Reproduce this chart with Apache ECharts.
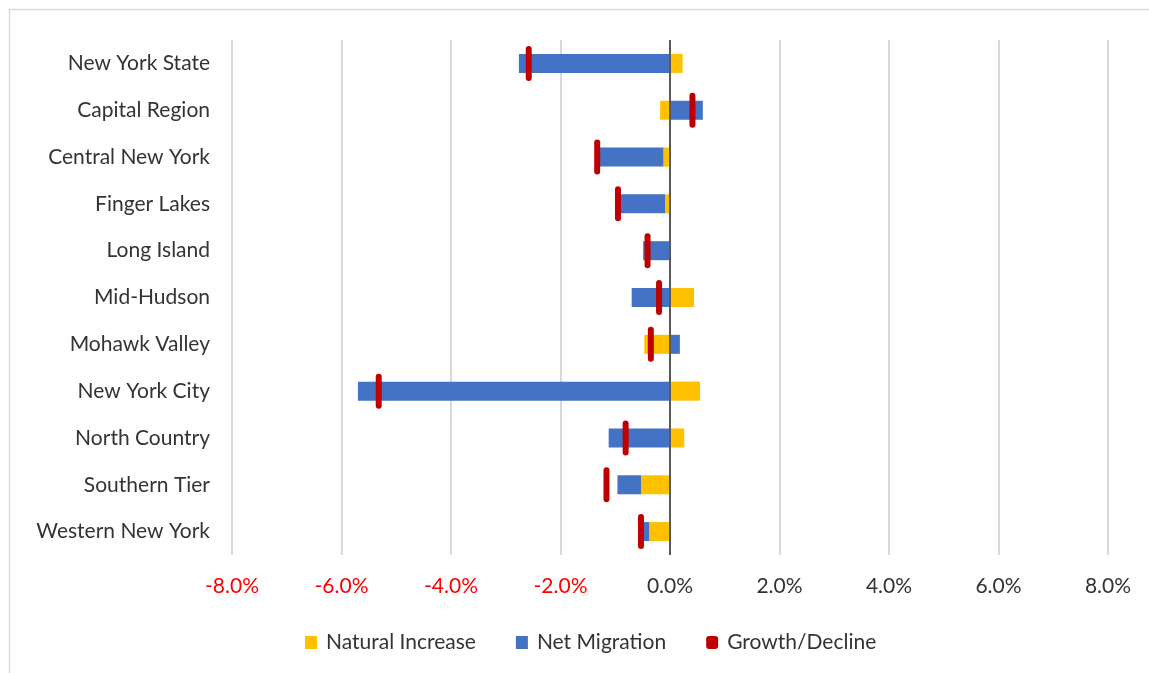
<!DOCTYPE html>
<html>
<head>
<meta charset="utf-8">
<title>Components of Population Change by Region</title>
<script src="https://cdn.jsdelivr.net/npm/echarts@6/dist/echarts.min.js"></script>
<style>
  html, body { margin: 0; padding: 0; background: #fff; }
  #chart { width: 1149px; height: 673px; }
</style>
</head>
<body>
<div id="chart"></div>
<script>
// Regions, top to bottom
const regions = [
  'New York State', 'Capital Region', 'Central New York', 'Finger Lakes',
  'Long Island', 'Mid-Hudson', 'Mohawk Valley', 'New York City',
  'North Country', 'Southern Tier', 'Western New York'
];

// Components of change, percent of population
const naturalIncrease = [0.23, -0.18, -0.12, -0.09, 0.02, 0.44, -0.47, 0.55, 0.26, -0.53, -0.38];
const netMigration    = [-2.76, 0.60, -1.16, -0.82, -0.49, -0.70, 0.18, -5.70, -1.12, -0.43, -0.10];
const growthDecline   = [-2.58, 0.41, -1.33, -0.95, -0.41, -0.20, -0.35, -5.32, -0.81, -1.16, -0.53];

// Value axis ticks
const xMin = -8, xMax = 8, xStep = 2;

const FONT = 'Lato';
const chart = echarts.init(document.getElementById('chart'), null, { renderer: 'canvas' });

// Growth/Decline is drawn as a short vertical capsule across each bar
function renderMarker(params, api) {
  const p = api.coord([api.value(0), api.value(1)]);
  const half = 14.5;
  return {
    type: 'line',
    shape: { x1: p[0], y1: p[1] - half, x2: p[0], y2: p[1] + half },
    style: { stroke: '#C00000', lineWidth: 6, lineCap: 'round' }
  };
}

const option = {
  backgroundColor: '#ffffff',
  animation: false,
  graphic: [{
    type: 'rect',
    shape: { x: 9.5, y: 9.5, width: 1200, height: 700 },
    style: { fill: 'none', stroke: '#d9d9d9', lineWidth: 1.5 },
    silent: true
  }],
  grid: { left: 232, right: 41, top: 40, bottom: 118, containLabel: false },
  legend: {
    left: 300,
    top: 627,
    itemWidth: 12,
    itemHeight: 13,
    itemGap: 40,
    textStyle: { fontFamily: FONT, fontSize: 21, color: '#333333', padding: [0, 0, 0, 4] },
    data: [
      { name: 'Natural Increase', icon: 'rect' },
      { name: 'Net Migration', icon: 'rect' },
      { name: 'Growth/Decline', icon: 'roundRect' }
    ]
  },
  xAxis: {
    type: 'value',
    min: xMin,
    max: xMax,
    interval: xStep,
    axisLine: { show: false },
    axisTick: { show: false },
    splitLine: { show: true, lineStyle: { color: '#d9d9d9', width: 2 } },
    axisLabel: {
      margin: 21,
      fontFamily: FONT,
      fontSize: 21,
      formatter: v => v.toFixed(1) + '%',
      color: v => (Number(v) < 0 ? '#FF0000' : '#333333')
    }
  },
  yAxis: {
    type: 'category',
    data: regions,
    inverse: true,
    axisLine: { show: false },
    axisTick: { show: false },
    splitLine: { show: false },
    axisLabel: { margin: 22, fontFamily: FONT, fontSize: 21, color: '#333333' }
  },
  series: [
    {
      name: 'Natural Increase',
      type: 'bar',
      stack: 'change',
      barWidth: 19,
      itemStyle: { color: '#FFC000' },
      data: naturalIncrease
    },
    {
      name: 'Net Migration',
      type: 'bar',
      stack: 'change',
      barWidth: 19,
      itemStyle: { color: '#4472C4' },
      data: netMigration,
      markLine: {
        silent: true,
        symbol: 'none',
        label: { show: false },
        lineStyle: { color: '#595959', width: 2, type: 'solid' },
        data: [{ xAxis: 0 }]
      }
    },
    {
      name: 'Growth/Decline',
      type: 'custom',
      renderItem: renderMarker,
      itemStyle: { color: '#C00000' },
      encode: { x: 0, y: 1 },
      z: 5,
      data: growthDecline.map((v, i) => [v, i])
    }
  ]
};

chart.setOption(option);
</script>
</body>
</html>
